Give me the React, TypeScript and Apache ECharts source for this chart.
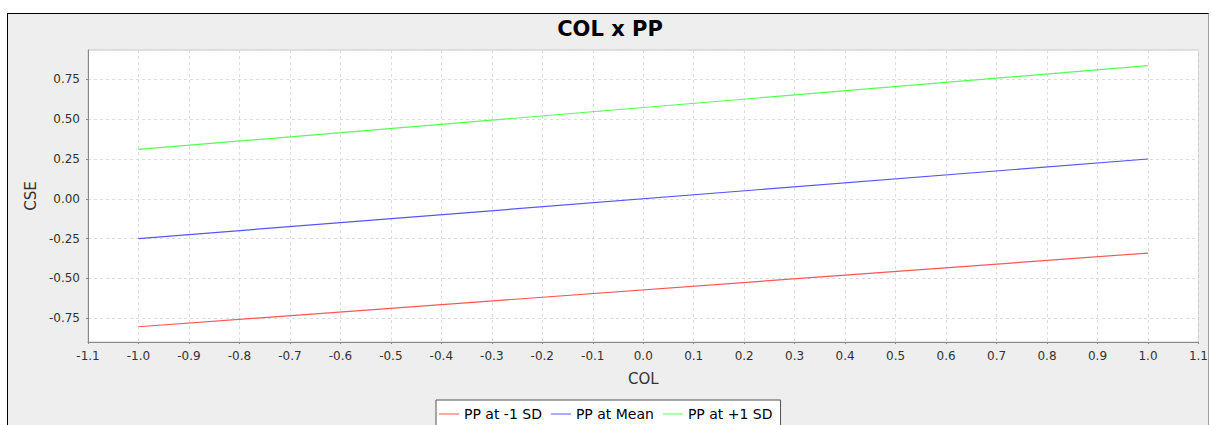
import React, { useEffect, useRef } from "react";
import * as echarts from "echarts";

const titleText = "COL x PP";
const xAxisName = "COL";
const yAxisName = "CSE";
const seriesNames = ["PP at -1 SD", "PP at Mean", "PP at +1 SD"];
const seriesColors = ["#ff5555", "#5555ff", "#55ff55"];
const xValues = [-1.0, 1.0];
const lowValues = [-0.804, -0.341];
const meanValues = [-0.25, 0.25];
const highValues = [0.31, 0.837];

const FONT = "'DejaVu Sans', sans-serif";

export default function App() {
  const ref = useRef<HTMLDivElement>(null);
  useEffect(() => {
    if (!ref.current) return;
    const chart = echarts.init(ref.current, null, { renderer: "svg" });
    const allValues = [lowValues, meanValues, highValues];
    const series = seriesNames.map((name, i) => ({
      name,
      type: "line",
      showSymbol: false,
      symbol: "none",
      data: xValues.map((x, j) => [x, allValues[i][j]]),
      lineStyle: { width: 1.2, color: seriesColors[i] },
      itemStyle: { color: seriesColors[i] },
      emphasis: { disabled: true },
    }));
    chart.setOption({
      animation: false,
      backgroundColor: "transparent",
      textStyle: { fontFamily: FONT },
      graphic: [
        {
          type: "text",
          x: 610,
          y: 29,
          style: {
            text: titleText,
            fill: "#000",
            font: `bold 21px ${FONT}`,
            align: "center",
            verticalAlign: "middle",
            textAlign: "center",
            textVerticalAlign: "middle",
          },
        },
      ],
      grid: {
        left: 88,
        top: 50,
        right: 9,
        bottom: 83,
        show: true,
        backgroundColor: "#ffffff",
        borderColor: "#c8c8c8",
        borderWidth: 1,
      },
      legend: {
        left: 436,
        top: 400,
        orient: "horizontal",
        padding: [7, 8, 7, 3],
        itemGap: 9,
        itemWidth: 20,
        itemHeight: 1,
        icon: "rect",
        backgroundColor: "#ffffff",
        borderColor: "#555555",
        borderWidth: 1,
        borderRadius: 0,
        textStyle: { fontFamily: FONT, fontSize: 14, color: "#000" },
        data: seriesNames,
      },
      xAxis: {
        type: "value",
        min: -1.1,
        max: 1.1,
        interval: 0.1,
        name: xAxisName,
        nameLocation: "middle",
        nameGap: 29,
        nameTextStyle: { fontFamily: FONT, fontSize: 15, color: "#333" },
        axisLine: { show: true, onZero: false, lineStyle: { color: "#888", width: 1 } },
        axisTick: { show: true, length: 2, lineStyle: { color: "#888" } },
        axisLabel: {
          fontFamily: FONT,
          fontSize: 12,
          color: "#333",
          margin: 8,
          formatter: (v: number) => v.toFixed(1),
        },
        splitLine: { show: true, lineStyle: { color: "#dddddd", type: [3, 3], width: 1 } },
      },
      yAxis: {
        type: "value",
        min: -0.9,
        max: 0.935,
        minInterval: 0.25,
        maxInterval: 0.25,
        name: yAxisName,
        nameLocation: "middle",
        nameGap: 48,
        nameRotate: 90,
        nameTextStyle: { fontFamily: FONT, fontSize: 15, color: "#333" },
        axisLine: { show: true, onZero: false, lineStyle: { color: "#888", width: 1 } },
        axisTick: { show: true, length: 2, lineStyle: { color: "#888" } },
        axisLabel: {
          fontFamily: FONT,
          fontSize: 12,
          color: "#333",
          margin: 8,
          showMinLabel: false,
          showMaxLabel: false,
          formatter: (v: number) => v.toFixed(2),
        },
        splitLine: { show: true, lineStyle: { color: "#dddddd", type: [3, 3], width: 1 } },
      },
      series,
    });
    return () => chart.dispose();
  }, []);
  return (
    <div style={{ position: "fixed", left: 0, top: 0, width: 1211, height: 425, background: "#fff", overflow: "hidden" }}>
      <div
        style={{
          position: "absolute",
          left: 7,
          top: 13,
          width: 1202,
          height: 420,
          background: "#eeeeee",
          borderLeft: "1px solid #000",
          borderTop: "1px solid #000",
          borderRight: "1px solid #a0a0a0",
          boxSizing: "border-box",
        }}
      />
      <div ref={ref} style={{ position: "absolute", left: 0, top: 0, width: 1211, height: 425 }} />
    </div>
  );
}
